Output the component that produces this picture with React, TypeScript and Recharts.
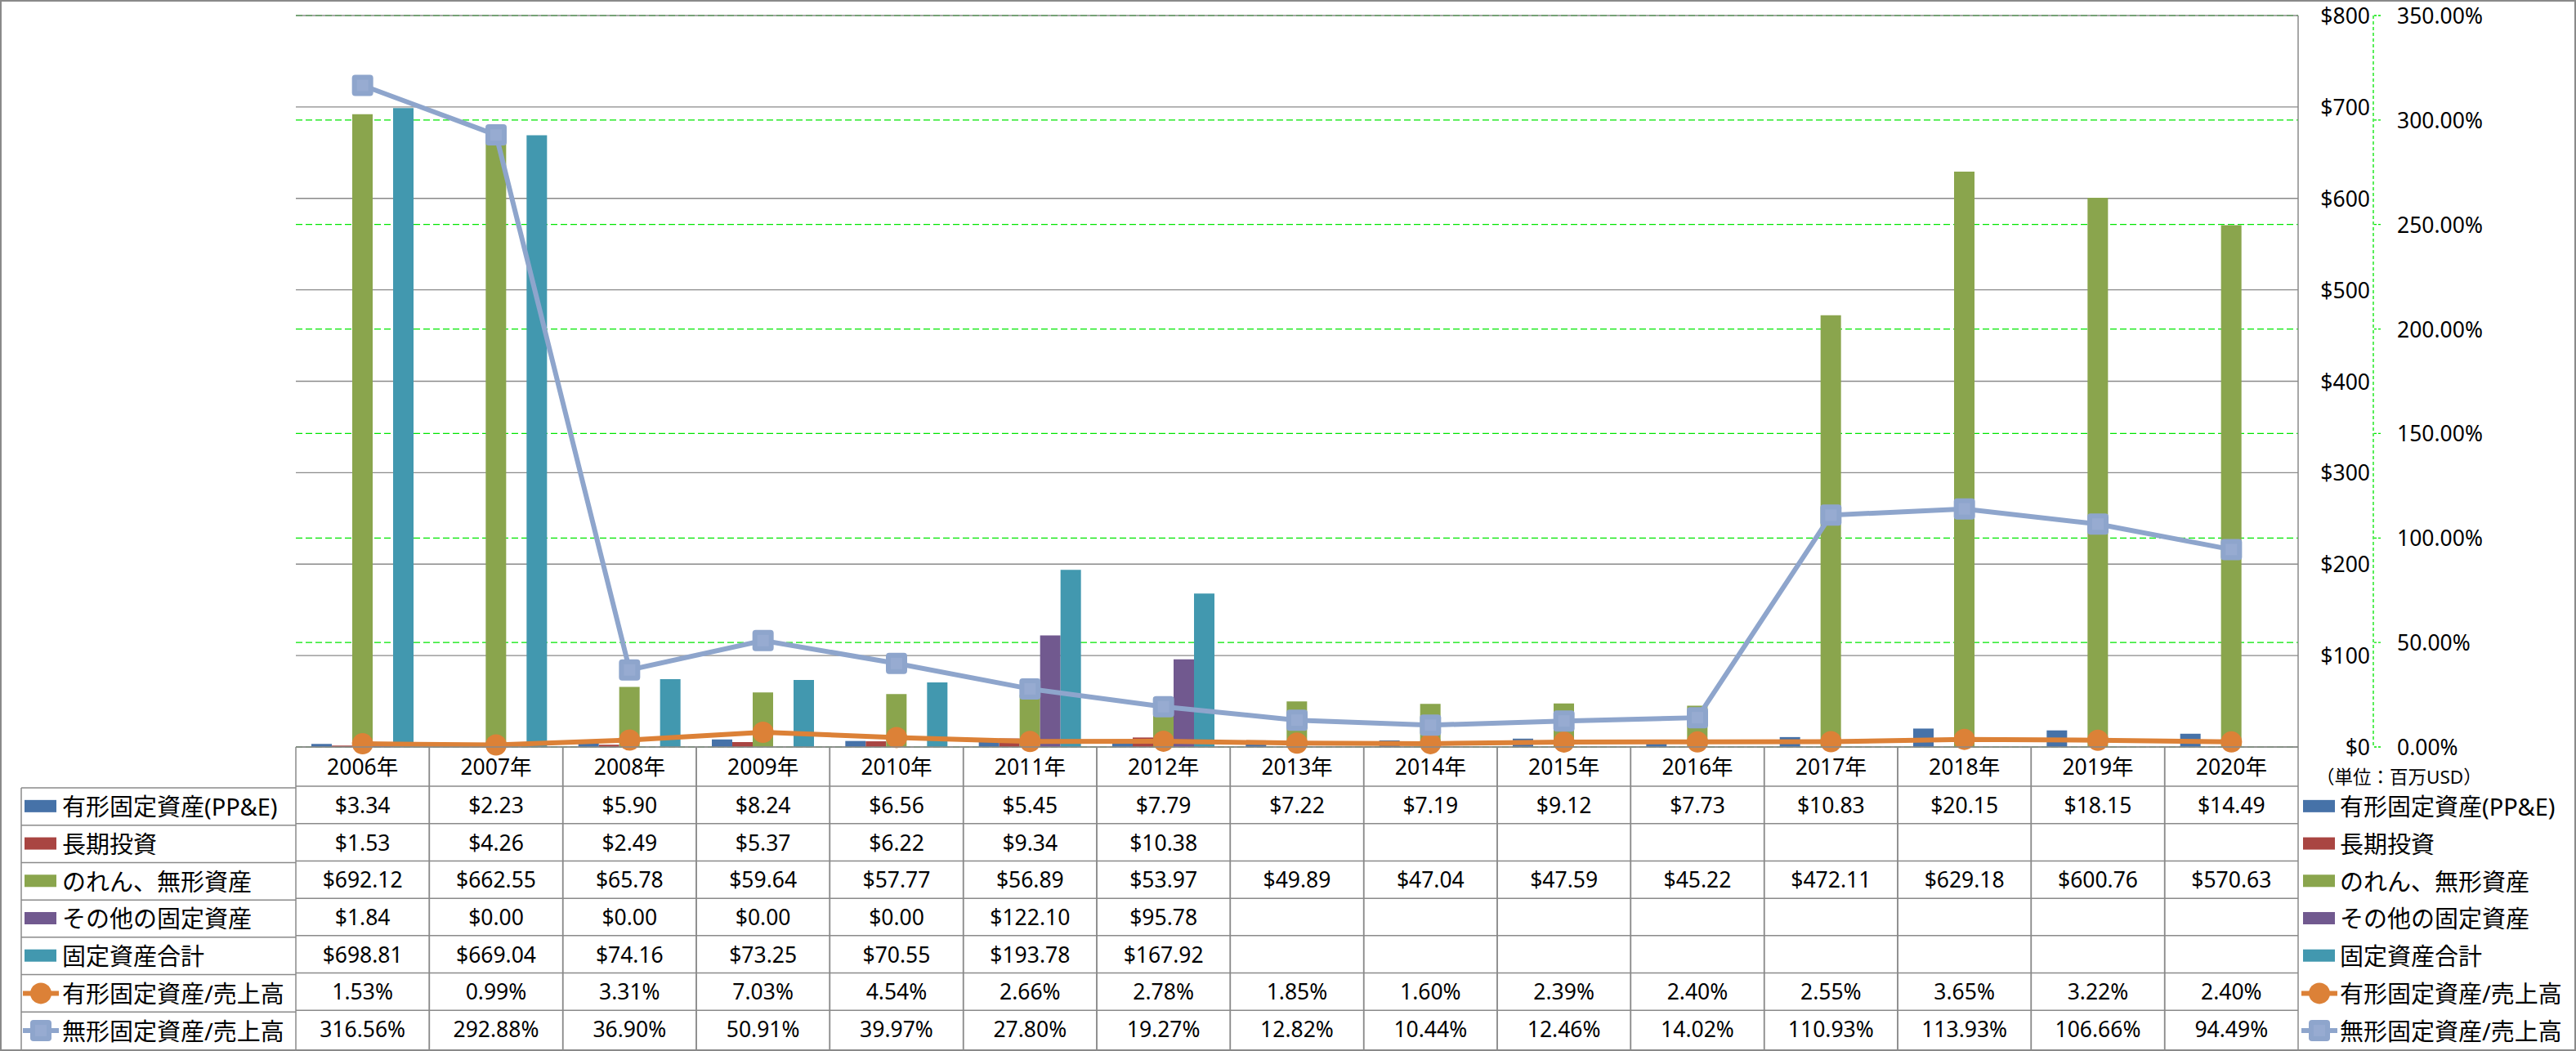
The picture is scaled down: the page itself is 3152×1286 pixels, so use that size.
import React from 'react';
import { ComposedChart, Bar, Line, XAxis, YAxis, CartesianGrid } from 'recharts';

const years = ['2006年', '2007年', '2008年', '2009年', '2010年', '2011年', '2012年', '2013年', '2014年', '2015年', '2016年', '2017年', '2018年', '2019年', '2020年'];
const ppe = [3.34, 2.23, 5.9, 8.24, 6.56, 5.45, 7.79, 7.22, 7.19, 9.12, 7.73, 10.83, 20.15, 18.15, 14.49];
const longInvest = [1.53, 4.26, 2.49, 5.37, 6.22, 9.34, 10.38, null, null, null, null, null, null, null, null];
const goodwill = [692.12, 662.55, 65.78, 59.64, 57.77, 56.89, 53.97, 49.89, 47.04, 47.59, 45.22, 472.11, 629.18, 600.76, 570.63];
const otherFixed = [1.84, 0, 0, 0, 0, 122.1, 95.78, null, null, null, null, null, null, null, null];
const totalFixed = [698.81, 669.04, 74.16, 73.25, 70.55, 193.78, 167.92, null, null, null, null, null, null, null, null];
const ppeRatio = [1.53, 0.99, 3.31, 7.03, 4.54, 2.66, 2.78, 1.85, 1.6, 2.39, 2.4, 2.55, 3.65, 3.22, 2.4];
const intangRatio = [316.56, 292.88, 36.9, 50.91, 39.97, 27.8, 19.27, 12.82, 10.44, 12.46, 14.02, 110.93, 113.93, 106.66, 94.49];

const usdTicks = [0, 100, 200, 300, 400, 500, 600, 700, 800];
const pctTicks = [0, 50, 100, 150, 200, 250, 300, 350];

const FONT = '"Noto Sans", "Noto Sans CJK JP", sans-serif';
const W = 3152;
const H = 1286;
const PLOT_LEFT = 362;
const PLOT_RIGHT = 2812;
const PLOT_TOP = 19;
const PLOT_BOTTOM = 916;
const YEAR_ROW_H = 48;
const ROW_H = 45.71;
const TABLE_BOTTOM = 1284;
const GRID = '#8a8a8a';

const series = [
  { key: 'ppe', name: '有形固定資産(PP&E)', color: '#4672A8', kind: 'bar', values: ppe },
  { key: 'longInvest', name: '長期投資', color: '#A94542', kind: 'bar', values: longInvest },
  { key: 'goodwill', name: 'のれん、無形資産', color: '#8AA54D', kind: 'bar', values: goodwill },
  { key: 'otherFixed', name: 'その他の固定資産', color: '#71598F', kind: 'bar', values: otherFixed },
  { key: 'totalFixed', name: '固定資産合計', color: '#4298AF', kind: 'bar', values: totalFixed },
  { key: 'ppeRatio', name: '有形固定資産/売上高', color: '#DC8137', kind: 'circle', values: ppeRatio },
  { key: 'intangRatio', name: '無形固定資産/売上高', color: '#8EA5CC', kind: 'square', values: intangRatio },
];

const data = years.map((year, i) => {
  const row: any = { year };
  series.forEach(s => { row[s.key] = s.values[i]; });
  return row;
});

const fmt = (kind: string, v: number | null) => {
  if (v === null || v === undefined) return '';
  return kind === 'bar' ? `$${v.toFixed(2)}` : `${v.toFixed(2)}%`;
};

// each x tick draws its own column of the data table under the plot
const TableColumn = (props: any) => {
  const { x, y, payload } = props;
  const i = years.indexOf(payload.value);
  const bw = (PLOT_RIGHT - PLOT_LEFT) / years.length;
  const left = x - bw / 2;
  const right = x + bw / 2;
  const rowTop = y + YEAR_ROW_H;
  return (
    <g fontFamily={FONT}>
      <line x1={left} x2={right} y1={y} y2={y} stroke={GRID} strokeWidth={1.5} />
      <line x1={left} x2={left} y1={y} y2={TABLE_BOTTOM} stroke={GRID} strokeWidth={1.5} />
      <line x1={right} x2={right} y1={y} y2={TABLE_BOTTOM} stroke={GRID} strokeWidth={1.5} />
      <text x={x} y={y + YEAR_ROW_H / 2} textAnchor="middle" dominantBaseline="central" fontSize={26.5} fill="#000">
        {payload.value}
      </text>
      {series.map((s, r) => (
        <g key={s.key}>
          <line x1={left} x2={right} y1={rowTop + r * ROW_H} y2={rowTop + r * ROW_H} stroke={GRID} strokeWidth={1.5} />
          <text x={x} y={rowTop + r * ROW_H + ROW_H / 2} textAnchor="middle" dominantBaseline="central" fontSize={26.5} fill="#000">
            {fmt(s.kind, s.values[i])}
          </text>
        </g>
      ))}
    </g>
  );
};

const UsdTick = (props: any) => {
  const { x, y, payload } = props;
  return (
    <text x={x + 88} y={y} textAnchor="end" dominantBaseline="central" fontSize={26.5} fontFamily={FONT} fill="#000">
      {`$${payload.value}`}
    </text>
  );
};

const PctTick = (props: any) => {
  const { x, y, payload } = props;
  return (
    <text x={x} y={y} textAnchor="start" dominantBaseline="central" fontSize={26.5} fontFamily={FONT} fill="#000">
      {`${Number(payload.value).toFixed(2)}%`}
    </text>
  );
};

const CircleDot = (props: any) => {
  const { cx, cy, index } = props;
  if (cx == null || cy == null) return <g key={index} />;
  return <circle key={index} cx={cx} cy={cy} r={13} fill="#DC8137" />;
};

const SquareDot = (props: any) => {
  const { cx, cy, index } = props;
  if (cx == null || cy == null) return <g key={index} />;
  return (
    <g key={index}>
      <rect x={cx - 13} y={cy - 13} width={26} height={26} rx={4} fill="#8EA5CC" />
      <rect x={cx - 7} y={cy - 7} width={14} height={14} fill="#97ABD1" />
    </g>
  );
};

const LegendKey = ({ s, x, y }: { s: any; x: number; y: number }) => {
  if (s.kind === 'bar') {
    return <rect x={x + 2} y={y - 8} width={39} height={15} fill={s.color} />;
  }
  const cx = x + 22;
  return (
    <g>
      <line x1={x} x2={x + 44} y1={y} y2={y} stroke={s.color} strokeWidth={6} />
      {s.kind === 'circle'
        ? <circle cx={cx} cy={y} r={13} fill={s.color} />
        : <g>
            <rect x={cx - 13} y={y - 13} width={26} height={26} rx={4} fill={s.color} />
            <rect x={cx - 7} y={y - 7} width={14} height={14} fill="#97ABD1" />
          </g>}
    </g>
  );
};

const Overlay = () => {
  const rowTop = PLOT_BOTTOM + YEAR_ROW_H;
  return (
    <svg width={W} height={H} style={{ position: 'absolute', left: 0, top: 0, pointerEvents: 'none' }} fontFamily={FONT}>
      {/* left legend column */}
      <line x1={26} x2={26} y1={rowTop} y2={TABLE_BOTTOM} stroke={GRID} strokeWidth={1.5} />
      {series.map((s, r) => {
        const cy = rowTop + r * ROW_H + ROW_H / 2;
        return (
          <g key={s.key}>
            <line x1={26} x2={PLOT_LEFT} y1={rowTop + r * ROW_H} y2={rowTop + r * ROW_H} stroke={GRID} strokeWidth={1.5} />
            <LegendKey s={s} x={28} y={cy} />
            <text x={76} y={cy} dominantBaseline="central" fontSize={29} fill="#000">{s.name}</text>
          </g>
        );
      })}
      {/* right legend */}
      <text x={2834} y={950} dominantBaseline="central" fontSize={22.5} fill="#000">（単位：百万USD）</text>
      {series.map((s, r) => {
        const cy = rowTop + r * ROW_H + ROW_H / 2;
        return (
          <g key={'r' + s.key}>
            <LegendKey s={s} x={2816} y={cy} />
            <text x={2863} y={cy} dominantBaseline="central" fontSize={29} fill="#000">{s.name}</text>
          </g>
        );
      })}
    </svg>
  );
};

export default function App() {
  return (
    <div style={{ position: 'absolute', left: 0, top: 0, width: W, height: H, background: '#fff' }}>
      <ComposedChart
        width={W}
        height={H}
        data={data}
        margin={{ top: PLOT_TOP, right: 48, left: PLOT_LEFT, bottom: 2 }}
        barGap={0}
      >
        <CartesianGrid yAxisId="ratio" vertical={false} stroke="#00E600" strokeDasharray="8 4" strokeWidth={1.3} />
        <CartesianGrid yAxisId="amount" vertical={false} stroke={GRID} strokeWidth={1.3} />
        <XAxis
          dataKey="year"
          height={TABLE_BOTTOM + 2 - PLOT_BOTTOM}
          axisLine={false}
          tickLine={false}
          tickSize={0}
          tickMargin={0}
          interval={0}
          tick={<TableColumn />}
        />
        <YAxis
          yAxisId="amount"
          orientation="right"
          width={92}
          domain={[0, 800]}
          ticks={usdTicks}
          interval={0}
          axisLine={{ stroke: GRID, strokeWidth: 1.5 }}
          tickLine={false}
          tickSize={0}
          tickMargin={0}
          tick={<UsdTick />}
        />
        <YAxis
          yAxisId="ratio"
          orientation="right"
          width={200}
          domain={[0, 350]}
          ticks={pctTicks}
          interval={0}
          axisLine={{ stroke: '#00E600', strokeDasharray: '4 3', strokeWidth: 1.3 }}
          tickLine={{ stroke: '#00E600', strokeDasharray: '3 2', strokeWidth: 1.3 }}
          tickSize={9}
          tickMargin={20}
          tick={<PctTick />}
        />
        {series.filter(s => s.kind === 'bar').map(s => (
          <Bar key={s.key} yAxisId="amount" dataKey={s.key} fill={s.color} barSize={25} isAnimationActive={false} />
        ))}
        <Line
          yAxisId="ratio"
          type="linear"
          dataKey="ppeRatio"
          stroke="#DC8137"
          strokeWidth={6}
          dot={CircleDot}
          activeDot={false}
          isAnimationActive={false}
        />
        <Line
          yAxisId="ratio"
          type="linear"
          dataKey="intangRatio"
          stroke="#8EA5CC"
          strokeWidth={6}
          dot={SquareDot}
          activeDot={false}
          isAnimationActive={false}
        />
      </ComposedChart>
      <Overlay />
      <div style={{ position: 'absolute', left: 0, top: 0, width: W, height: H, border: '2px solid #8a8a8a', boxSizing: 'border-box', pointerEvents: 'none' }} />
    </div>
  );
}
